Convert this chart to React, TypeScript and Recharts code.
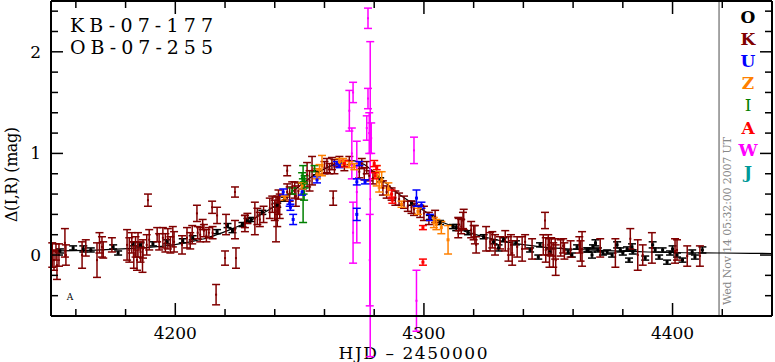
import React from "react";
import {
  ComposedChart, Scatter, Line, XAxis, YAxis, ErrorBar,
  ReferenceLine, Customized,
} from "recharts";

// model light curve (HJD-2450000, delta mag)
const modelHjd = [4150, 4170, 4186, 4196, 4206, 4213, 4219, 4226, 4231, 4236, 4241, 4246, 4251, 4256, 4261, 4266, 4271, 4276, 4281, 4286, 4291, 4296, 4301, 4306, 4312, 4318, 4324, 4333, 4347, 4366, 4390, 4420, 4440];
const modelMag = [0.04, 0.05, 0.07, 0.09, 0.13, 0.17, 0.22, 0.29, 0.35, 0.42, 0.5, 0.6, 0.7, 0.79, 0.86, 0.91, 0.93, 0.89, 0.79, 0.68, 0.58, 0.5, 0.42, 0.34, 0.28, 0.22, 0.18, 0.13, 0.08, 0.05, 0.03, 0.02, 0.015];

// [hjd, mag, err]
const obsO = [
  [4153.6, 0.04, 0.02], [4158.9, 0.07, 0.02], [4163, 0.06, 0.03], [4166, 0.05, 0.02], [4175, 0.08, 0.02],
  [4177, 0.02, 0.02], [4183, 0.11, 0.02], [4186, 0.1, 0.02], [4191, 0.11, 0.02], [4196.7, 0.13, 0.02],
  [4203, 0.14, 0.02], [4207, 0.17, 0.02], [4216.8, 0.23, 0.02], [4221, 0.29, 0.02], [4223, 0.24, 0.02],
  [4227, 0.3, 0.02], [4229, 0.34, 0.02], [4230.5, 0.35, 0.02], [4235, 0.42, 0.02], [4241, 0.49, 0.02],
  [4244, 0.55, 0.02], [4257, 0.81, 0.02], [4282.4, 0.74, 0.02], [4295, 0.51, 0.02], [4302.4, 0.37, 0.02],
  [4306.5, 0.32, 0.02], [4311.7, 0.28, 0.02], [4313, 0.27, 0.03], [4317.7, 0.22, 0.02], [4324, 0.18, 0.02],
  [4328, 0.13, 0.02], [4330, 0.07, 0.03], [4332, 0.15, 0.02], [4337, 0.12, 0.02], [4342.7, 0.05, 0.02],
  [4346.7, 0.1, 0.02], [4346, -0.02, 0.02], [4350.7, 0.03, 0.03], [4358, 0.03, 0.02], [4359.5, 0.0, 0.02],
  [4361.6, 0.08, 0.02], [4365.6, 0.05, 0.02], [4366, 0.05, 0.02], [4367.6, 0.0, 0.03], [4368, 0.08, 0.02],
  [4369, 0.12, 0.03], [4370, 0.05, 0.02], [4372, 0.02, 0.02], [4373.7, 0.03, 0.02], [4375.7, 0.0, 0.02],
  [4377.7, 0.1, 0.03], [4379, 0.05, 0.02], [4380, 0.02, 0.02], [4381.7, 0.06, 0.02], [4382.5, -0.05, 0.02],
  [4383.7, 0.08, 0.03], [4384, 0.03, 0.02], [4389, -0.03, 0.02], [4392, 0.1, 0.03], [4393, 0.05, 0.02],
  [4394.6, -0.02, 0.02], [4396, 0.05, 0.02], [4397.8, -0.07, 0.02], [4399, 0.02, 0.02], [4400, 0.06, 0.03],
  [4401.8, 0.0, 0.02], [4404, -0.05, 0.02], [4407.9, 0.03, 0.02], [4409, -0.02, 0.02], [4412, 0.05, 0.03],
];

const obsK = [
  [4150.5, 0.0, 0.12], [4151.2, -0.05, 0.1], [4152, 0.03, 0.08], [4152.4, -0.1, 0.14], [4153.2, 0.0, 0.11],
  [4155.6, 0.12, 0.14], [4156, 0.0, 0.1], [4162.5, 0.0, 0.13], [4164, 0.07, 0.08], [4168.5, -0.05, 0.17],
  [4169.5, 0.12, 0.1], [4170.5, 0.08, 0.1], [4171, 0.05, 0.08], [4174.5, 0.1, 0.07], [4180.6, 0.1, 0.15],
  [4181.5, 0.05, 0.12], [4182.5, 0.12, 0.1], [4183.3, 0.0, 0.13], [4184, 0.08, 0.1], [4184.6, -0.05, 0.1],
  [4185, 0.1, 0.12], [4186, 0.03, 0.1], [4186.8, -0.05, 0.12], [4187, 0.06, 0.09], [4188.5, 0.1, 0.1],
  [4189, 0.54, 0.06], [4189.5, 0.15, 0.1], [4192.7, 0.2, 0.07], [4193.5, 0.13, 0.08], [4195, 0.17, 0.1],
  [4196, 0.12, 0.09], [4197, 0.16, 0.1], [4198, 0.1, 0.08], [4199, 0.18, 0.1], [4199.5, 0.13, 0.1],
  [4202.7, 0.1, 0.09], [4204.7, 0.17, 0.1], [4206, 0.14, 0.08], [4206.8, 0.2, 0.09], [4208.7, 0.41, 0.08],
  [4209, 0.22, 0.06], [4210, 0.2, 0.07], [4211, 0.3, 0.05], [4211.5, 0.24, 0.06], [4212.5, 0.19, 0.06],
  [4213.5, 0.22, 0.05], [4214.8, 0.47, 0.06], [4215, 0.22, 0.06], [4216.4, -0.39, 0.1], [4216.8, 0.39, 0.08],
  [4220, -0.03, 0.07], [4220.4, 0.3, 0.1], [4224, 0.62, 0.05], [4224.4, -0.03, 0.1], [4224, 0.25, 0.09],
  [4228, 0.33, 0.06], [4229, 0.36, 0.05], [4228, 0.31, 0.08], [4232, 0.36, 0.16], [4233, 0.38, 0.08],
  [4234, 0.35, 0.07], [4235.5, 0.4, 0.08], [4238, 0.46, 0.1], [4239, 0.5, 0.08], [4240, 0.44, 0.1],
  [4240.5, 0.35, 0.22], [4241, 0.43, 0.15], [4241.5, 0.52, 0.12], [4242, 0.48, 0.12], [4245, 0.62, 0.08],
  [4245, 0.83, 0.05], [4246, 0.6, 0.07], [4247, 0.66, 0.06], [4248, 0.64, 0.08], [4248.5, 0.58, 0.1],
  [4249.5, 0.63, 0.08], [4253, 0.79, 0.12], [4254, 0.73, 0.1], [4255, 0.83, 0.14], [4260, 0.86, 0.06],
  [4261, 0.88, 0.07], [4262, 0.85, 0.05], [4263, 0.9, 0.06], [4263.5, 0.56, 0.07], [4264, 0.87, 0.07],
  [4266, 0.92, 0.05], [4268, 0.88, 0.05], [4270, 0.93, 0.04], [4274, 0.82, 0.06], [4275, 0.9, 0.05],
  [4276, 0.8, 0.06], [4277, 0.86, 0.06], [4278, 0.78, 0.05], [4279.5, 0.76, 0.06], [4283.5, 0.66, 0.07],
  [4285, 0.62, 0.06], [4287, 0.6, 0.06], [4288.5, 0.56, 0.07], [4290, 0.55, 0.06], [4292, 0.52, 0.06],
  [4293.5, 0.48, 0.05], [4295, 0.47, 0.06], [4296, 0.45, 0.06], [4298.5, 0.43, 0.06], [4300, 0.41, 0.07],
  [4302, 0.36, 0.06], [4304.5, 0.38, 0.06], [4313.8, 0.27, 0.1], [4314, 0.3, 0.06], [4315, 0.28, 0.07],
  [4315.7, 0.34, 0.08], [4316, 0.35, 0.1], [4319, 0.25, 0.08], [4320, 0.22, 0.07], [4320.5, 0.2, 0.09],
  [4321, 0.1, 0.08], [4325, 0.16, 0.12], [4326.6, 0.13, 0.09], [4327.5, 0.15, 0.08], [4328.6, 0.1, 0.1],
  [4330.6, 0.12, 0.06], [4332.7, 0.14, 0.1], [4334, 0.06, 0.12], [4335, 0.1, 0.1], [4335.5, 0.02, 0.12],
  [4337.5, 0.08, 0.1], [4339.5, 0.06, 0.12], [4340.7, 0.13, 0.07], [4343.5, 0.06, 0.1], [4348, 0.1, 0.1],
  [4348.7, 0.34, 0.08], [4349, 0.05, 0.12], [4350, 0.1, 0.1], [4350.5, 0.02, 0.14], [4351.2, 0.08, 0.09],
  [4352, 0.0, 0.12], [4352.8, 0.06, 0.1], [4353, -0.05, 0.15], [4355, 0.07, 0.08], [4356, 0.09, 0.07],
  [4356.5, 0.04, 0.08], [4359, 0.06, 0.08], [4362.5, 0.1, 0.08], [4363, 0.04, 0.1], [4363.6, 0.06, 0.17],
  [4370.9, 0.07, 0.09], [4377, 0.02, 0.14], [4383, 0.16, 0.1], [4386, 0.0, 0.15], [4388, 0.0, 0.1],
  [4391.7, 0.07, 0.15], [4401, 0.04, 0.12], [4401.8, 0.05, 0.1], [4405.9, -0.01, 0.1], [4411, -0.01, 0.1],
];

const obsU = [
  [4243.4, 0.62, 0.03], [4246, 0.51, 0.03], [4246.3, 0.47, 0.03], [4247.4, 0.35, 0.05], [4251, 0.62, 0.03],
  [4257, 0.74, 0.03], [4265, 0.9, 0.02], [4266, 0.88, 0.02], [4273, 0.4, 0.06], [4273, 0.72, 0.03],
  [4274, 0.9, 0.02], [4276.3, 0.72, 0.02], [4297, 0.56, 0.08], [4299, 0.49, 0.03], [4302.4, 0.37, 0.03],
];

const obsZ = [
  [4244, 0.56, 0.02], [4251, 0.68, 0.03], [4257, 0.8, 0.05], [4258, 0.84, 0.05], [4259, 0.88, 0.1],
  [4266, 0.92, 0.03], [4267.5, 0.92, 0.03], [4268, 0.9, 0.03], [4270, 0.89, 0.03], [4272, 0.87, 0.03],
  [4281, 0.78, 0.1], [4282, 0.72, 0.1], [4283, 0.74, 0.08], [4285.7, 0.65, 0.06], [4291, 0.5, 0.03],
  [4297.6, 0.43, 0.03], [4304, 0.32, 0.05], [4305, 0.3, 0.05], [4307, 0.27, 0.06], [4309.7, 0.15, 0.14],
];

const obsI = [
  [4247, 0.63, 0.03], [4251, 0.76, 0.05], [4251.3, 0.7, 0.05], [4251.6, 0.66, 0.06], [4252, 0.72, 0.06],
  [4251.8, 0.62, 0.08], [4251.4, 0.6, 0.28], [4256, 0.85, 0.03],
];

const obsA = [
  [4268, 0.9, 0.03], [4280, 0.9, 0.03], [4281, 0.86, 0.02], [4280.3, 0.78, 0.03], [4287, 0.6, 0.04],
  [4287.3, 0.54, 0.03], [4299.6, 0.27, 0.02], [4299.6, -0.07, 0.03],
];

const obsW = [
  [4277.5, 2.33, 0.1], [4277.5, 1.54, 0.1], [4277, 1.25, 0.12], [4278, 1.2, 0.2], [4278.8, 1.15, 0.15],
  [4278.4, 0.55, 1.55], [4278.2, -0.05, 0.45], [4271.5, 1.6, 0.1], [4270, 1.42, 0.2], [4271, 1.0, 0.25],
  [4271.5, 0.22, 0.3], [4273, 0.62, 0.5], [4296, 1.03, 0.13], [4297, -0.45, 0.3],
];

const xTicks = [4160, 4180, 4200, 4220, 4240, 4260, 4280, 4300, 4320, 4340, 4360, 4380, 4400, 4420];
const yTicks = [-0.6, -0.4, -0.2, 0, 0.2, 0.4, 0.6, 0.8, 1, 1.2, 1.4, 1.6, 1.8, 2, 2.2, 2.4];

const legendNames = ["O", "K", "U", "Z", "I", "A", "W", "J"];
const legendColors = ["#000000", "#800000", "#0000ff", "#ff8000", "#008000", "#ff0000", "#ff00ff", "#009999"];

const FONT = "'DejaVu Serif', serif";

const toPts = (arr: number[][]) => arr.map(([h, m, e]) => ({ h, m, e }));
const model = modelHjd.map((h, i) => ({ h, m: modelMag[i] }));

const isMajorX = (v: number) => v % 100 === 0;
const isMajorY = (v: number) => Math.abs(v - Math.round(v)) < 1e-6;

function BottomTick({ x, y, payload }: any) {
  const major = isMajorX(payload.value);
  return (
    <g>
      <line x1={x} x2={x} y1={y} y2={y - (major ? 13 : 7)} stroke="#000" strokeWidth={1.5} />
      {major && (
        <text x={x} y={y + 23} textAnchor="middle" fontFamily={FONT} fontSize={17} fill="#000">
          {payload.value}
        </text>
      )}
    </g>
  );
}

function TopTick({ x, y, payload }: any) {
  const major = isMajorX(payload.value);
  return <line x1={x} x2={x} y1={y} y2={y + (major ? 13 : 7)} stroke="#000" strokeWidth={1.5} />;
}

function LeftTick({ x, y, payload }: any) {
  const major = isMajorY(payload.value);
  return (
    <g>
      <line x1={x} x2={x + (major ? 12 : 7)} y1={y} y2={y} stroke="#000" strokeWidth={1.5} />
      {major && (
        <text x={x - 10} y={y + 6} textAnchor="end" fontFamily={FONT} fontSize={17} fill="#000">
          {Math.round(payload.value)}
        </text>
      )}
    </g>
  );
}

function RightTick({ x, y, payload }: any) {
  const major = isMajorY(payload.value);
  return <line x1={x} x2={x - (major ? 12 : 7)} y1={y} y2={y} stroke="#000" strokeWidth={1.5} />;
}

const square = (color: string, s: number) => (p: any) =>
  <rect x={p.cx - s / 2} y={p.cy - s / 2} width={s} height={s} fill={color} />;

function Annotations() {
  return (
    <g>
      <text x={70} y={32} fontFamily={FONT} fontSize={19} textLength={143} lengthAdjust="spacing" fill="#000">KB-07-177</text>
      <text x={70} y={54} fontFamily={FONT} fontSize={19} textLength={143} lengthAdjust="spacing" fill="#000">OB-07-255</text>
      <text x={70} y={300} fontFamily={FONT} fontSize={9} textAnchor="middle" fill="#000">A</text>
      <text x={413} y={359} fontFamily={FONT} fontSize={17} textAnchor="middle" textLength={149} lengthAdjust="spacing" fill="#000">HJD – 2450000</text>
      <text x={17} y={222} transform="rotate(-90 17 222)" fontFamily={FONT} fontSize={16} textLength={95} lengthAdjust="spacing" fill="#000">Δ(I,R) (mag)</text>
      <text x={731} y={305} transform="rotate(-90 731 305)" fontFamily={FONT} fontSize={11} textLength={168} lengthAdjust="spacing" fill="#888">Wed Nov 14 05:32:00 2007 UT</text>
      {legendNames.map((n, i) => (
        <text key={n} x={748} y={23 + i * 22.1} textAnchor="middle" fontFamily={FONT} fontSize={17}
          fontWeight={n === "I" ? "normal" : "bold"} fill={legendColors[i]}>{n}</text>
      ))}
    </g>
  );
}

const groups = [
  { name: "O", data: obsO, color: "#000000", s: 3 },
  { name: "K", data: obsK, color: "#800000", s: 2 },
  { name: "W", data: obsW, color: "#ff00ff", s: 2 },
  { name: "I", data: obsI, color: "#008000", s: 2 },
  { name: "U", data: obsU, color: "#0000ff", s: 3 },
  { name: "Z", data: obsZ, color: "#ff8000", s: 3 },
  { name: "A", data: obsA, color: "#ff0000", s: 3 },
];

export default function App() {
  return (
    <div style={{ position: "absolute", left: 0, top: 0, width: 775, height: 362, background: "#fff" }}>
      <ComposedChart width={775} height={362} margin={{ top: 0, right: 2, left: 0, bottom: 0 }}>
        <XAxis xAxisId="b" type="number" dataKey="h" domain={[4150, 4440]} ticks={xTicks} interval={0}
          tickSize={0} tickMargin={0} tickLine={false} axisLine={{ stroke: "#000", strokeWidth: 2 }}
          tick={(p: any) => <BottomTick {...p} />} height={46} allowDataOverflow />
        <XAxis xAxisId="t" orientation="top" type="number" dataKey="h" domain={[4150, 4440]} ticks={xTicks} interval={0}
          tickSize={0} tickMargin={0} tickLine={false} axisLine={{ stroke: "#000", strokeWidth: 2 }}
          tick={(p: any) => <TopTick {...p} />} height={1} allowDataOverflow />
        <YAxis yAxisId="l" type="number" dataKey="m" domain={[-0.6, 2.5]} ticks={yTicks} interval={0}
          tickSize={0} tickMargin={0} tickLine={false} axisLine={{ stroke: "#000", strokeWidth: 2 }}
          tick={(p: any) => <LeftTick {...p} />} width={51} allowDataOverflow />
        <YAxis yAxisId="r" orientation="right" type="number" dataKey="m" domain={[-0.6, 2.5]} ticks={yTicks} interval={0}
          tickSize={0} tickMargin={0} tickLine={false} axisLine={{ stroke: "#000", strokeWidth: 2 }}
          tick={(p: any) => <RightTick {...p} />} width={1} allowDataOverflow />

        <ReferenceLine xAxisId="b" yAxisId="l" x={4418.7} stroke="#888" strokeWidth={1.5} />

        <Line data={model} xAxisId="b" yAxisId="l" dataKey="m" type="monotone" stroke="#000"
          strokeWidth={1.2} dot={false} isAnimationActive={false} />

        {groups.map((g) => (
          <Scatter key={g.name} name={g.name} data={toPts(g.data)} xAxisId="b" yAxisId="l" dataKey="m"
            shape={square(g.color, g.s)} isAnimationActive={false}>
            <ErrorBar dataKey="e" direction="y" width={4} stroke={g.color} strokeWidth={1.5} />
          </Scatter>
        ))}

        <Customized component={Annotations} />
      </ComposedChart>
    </div>
  );
}
